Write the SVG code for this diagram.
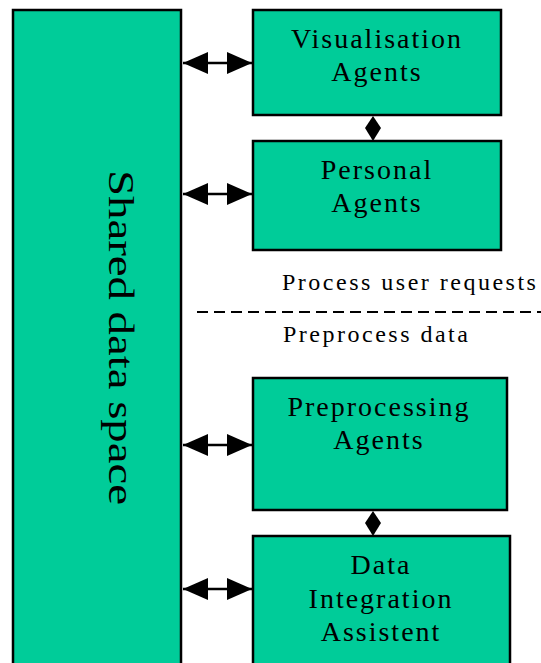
<svg xmlns="http://www.w3.org/2000/svg" width="541" height="663" viewBox="0 0 541 663">
<style>
.box{fill:#00cc99;stroke:#000;stroke-width:2.5}
.t{font-family:"Liberation Serif","Times New Roman",serif;font-size:28px;letter-spacing:2px;fill:#000;text-anchor:middle}
.lab{font-family:"Liberation Serif","Times New Roman",serif;font-size:24px;letter-spacing:2.5px;fill:#000}
.con{stroke:#000;stroke-width:2.5;fill:none}
</style>
<defs>
<marker id="ah" markerUnits="userSpaceOnUse" markerWidth="26" markerHeight="24" refX="25" refY="12" orient="auto-start-reverse">
<path d="M0,1 L25,12 L0,23 Z" fill="#000"/>
</marker>
</defs>
<rect width="541" height="663" fill="#fff"/>
<g id="shared">
<rect class="box" x="13" y="10" width="168" height="670"/>
<text transform="translate(109,170) rotate(90)" x="0" y="0" textLength="335" lengthAdjust="spacingAndGlyphs" style="font-family:'Liberation Serif','Times New Roman',serif;font-size:36px;fill:#000">Shared data space</text>
</g>
<g id="visualisation">
<rect class="box" x="253" y="10" width="248" height="105"/>
<text class="t" x="377" y="48">Visualisation</text>
<text class="t" x="377" y="81">Agents</text>
</g>
<g id="personal">
<rect class="box" x="253" y="141" width="248" height="109"/>
<text class="t" x="377" y="179">Personal</text>
<text class="t" x="377" y="212">Agents</text>
</g>
<g id="preprocessing">
<rect class="box" x="253" y="378" width="254" height="132"/>
<text class="t" x="379" y="416">Preprocessing</text>
<text class="t" x="379" y="449">Agents</text>
</g>
<g id="integration">
<rect class="box" x="253" y="536" width="257" height="150"/>
<text class="t" x="381" y="574">Data</text>
<text class="t" x="381" y="608">Integration</text>
<text class="t" x="381" y="641">Assistent</text>
</g>
<g id="labels">
<text class="lab" x="282" y="290">Process user requests</text>
<text class="lab" x="283" y="342">Preprocess data</text>
<line x1="197" y1="312" x2="541" y2="312" stroke="#000" stroke-width="2" stroke-dasharray="11,6"/>
</g>
<g id="connectors">
<line class="con" x1="183" y1="63" x2="252" y2="63" marker-start="url(#ah)" marker-end="url(#ah)"/>
<line class="con" x1="183" y1="194" x2="252" y2="194" marker-start="url(#ah)" marker-end="url(#ah)"/>
<line class="con" x1="183" y1="445" x2="252" y2="445" marker-start="url(#ah)" marker-end="url(#ah)"/>
<line class="con" x1="183" y1="589" x2="252" y2="589" marker-start="url(#ah)" marker-end="url(#ah)"/>
<path d="M373,116 L381,128 L373,141 L365,128 Z" fill="#000"/>
<path d="M373,511 L381,523 L373,536 L365,523 Z" fill="#000"/>
</g>
</svg>
